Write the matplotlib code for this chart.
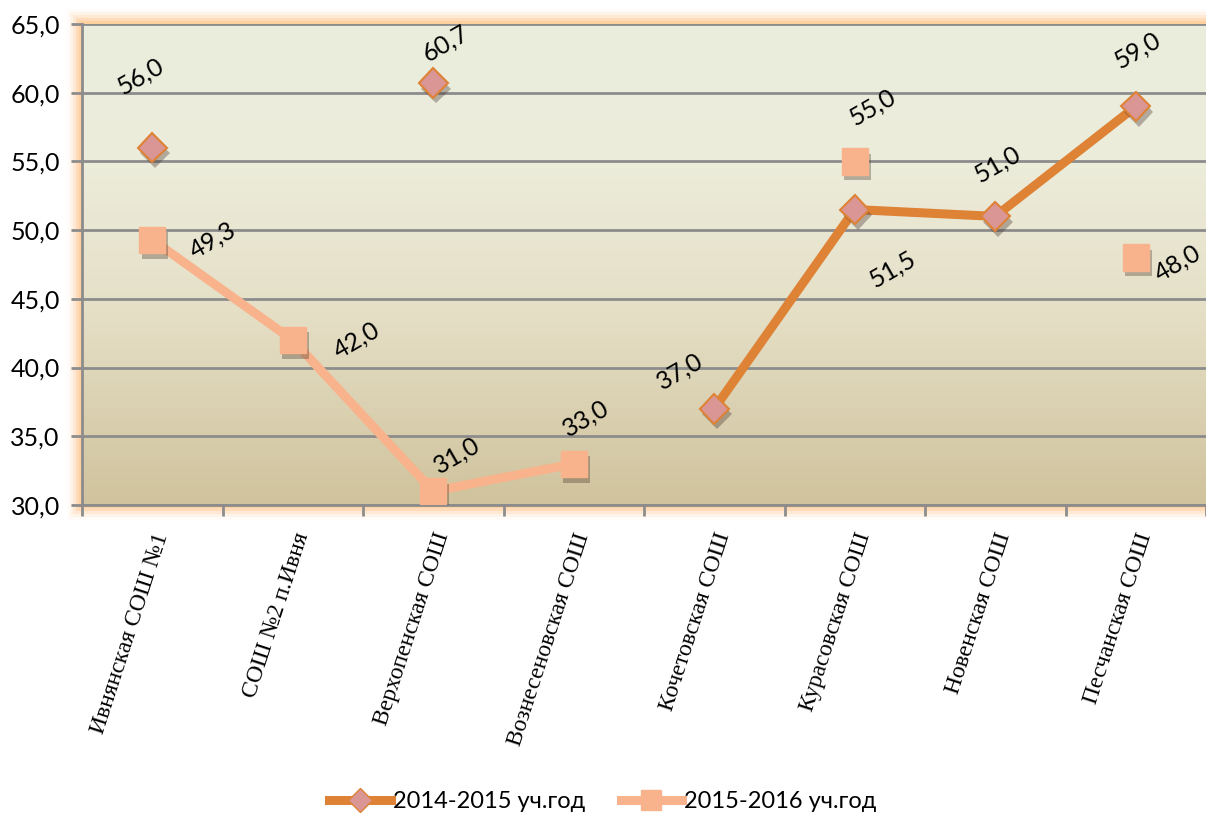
import matplotlib.pyplot as plt
import matplotlib.patheffects as pe
import numpy as np
from matplotlib.colors import LinearSegmentedColormap
from matplotlib.patches import Rectangle

# Data
schools = ["Ивнянская СОШ №1", "СОШ №2 п.Ивня", "Верхопенская СОШ",
           "Вознесеновская СОШ", "Кочетовская СОШ", "Курасовская СОШ",
           "Новенская СОШ", "Песчанская СОШ"]
y2015 = [56.0, np.nan, 60.7, np.nan, 37.0, 51.5, 51.0, 59.0]
y2016 = [49.3, 42.0, 31.0, 33.0, np.nan, 55.0, np.nan, 48.0]
name2015 = "2014-2015 уч.год"
name2016 = "2015-2016 уч.год"

# label offsets in pixels (dx, dy)
off2015 = [(-12, 72), None, (12, 40), None, (-34, 38), (38, -60), (2, 52), (2, 56)]
off2016 = [(60, 0), (64, 0), (24, 36), (12, 46), None, (18, 54), None, (42, -6)]

c1 = "#DE8236"
c1m = "#D99694"
c2 = "#F8B38C"
sans = "Lato"

fig = plt.figure(figsize=(12.06, 8.16), dpi=100)
ax = fig.add_axes([82/1206, 1-505/816, 1124/1206, 481/816])

x = np.arange(len(schools))
ax.set_xlim(-0.5, len(schools) - 0.5)
ax.set_ylim(30, 65)

# background gradient
cmap = LinearSegmentedColormap.from_list("bg", [(0, "#D0C39D"), (0.4, "#E5DFC6"), (0.7, "#ECECDA"), (1, "#EAEEDD")])
grad = np.linspace(0, 1, 256).reshape(-1, 1)
ax.imshow(grad, aspect="auto", cmap=cmap, origin="lower",
          extent=[-0.5, len(schools) - 0.5, 30, 65], zorder=0)

# orange glow around the plot area
for i, a in enumerate([0.5, 0.35, 0.22, 0.12, 0.06]):
    p = (i + 1) * 3
    fig.patches.append(Rectangle((82 - p, 816 - 505 - p), 1124 + 2 * p, 481 + 2 * p,
                                 transform=None, facecolor="#FFC58A", alpha=a,
                                 edgecolor="none", zorder=-10))

ax.set_yticks(np.arange(30, 66, 5))
ax.set_yticklabels([f"{v:.1f}".replace(".", ",") for v in np.arange(30, 66, 5)],
                   fontsize=18, family=sans)
ax.yaxis.grid(True, color="#8C8C8C", linewidth=2)
ax.set_axisbelow(True)
ax.tick_params(axis="y", length=8, width=2, color="#8C8C8C", pad=8)

ax.set_xticks(np.arange(len(schools) + 1) - 0.5, minor=True)
ax.set_xticks(x)
ax.set_xticklabels(schools, rotation=72, fontsize=17, family="Liberation Serif",
                   ha="right", va="top", rotation_mode="anchor")
ax.tick_params(axis="x", which="major", length=0, pad=18)
ax.tick_params(axis="x", which="minor", length=8, width=2, color="#8C8C8C")
for s in ["top", "right"]:
    ax.spines[s].set_visible(False)
ax.spines["left"].set_color("#8C8C8C")
ax.spines["left"].set_linewidth(2)
ax.spines["bottom"].set_color("#8C8C8C")
ax.spines["bottom"].set_linewidth(2)

shadow = [pe.SimplePatchShadow(offset=(2, -4), alpha=0.35), pe.Normal()]

# lines
ax.plot(x, y2015, color=c1, linewidth=6.5, zorder=3, solid_capstyle="butt")
ax.plot(x, y2016, color=c2, linewidth=6.5, zorder=3, solid_capstyle="butt")
# markers with shadow
ax.plot(x, y2015, linestyle="none", marker="D", markersize=15,
        markerfacecolor=c1m, markeredgecolor=c1, markeredgewidth=1.5,
        zorder=4, path_effects=shadow)
ax.plot(x, y2016, linestyle="none", marker="s", markersize=19,
        markerfacecolor=c2, markeredgecolor=c2, zorder=4, path_effects=shadow)

# legend handles
ax.plot([], [], color=c1, linewidth=6.5, marker="D", markersize=12,
        markerfacecolor=c1m, markeredgecolor=c1, label=name2015)
ax.plot([], [], color=c2, linewidth=6.5, marker="s", markersize=15,
        markerfacecolor=c2, markeredgecolor=c2, label=name2016)

for i in range(len(schools)):
    if not np.isnan(y2015[i]):
        ax.annotate(f"{y2015[i]:.1f}".replace(".", ","), (x[i], y2015[i]),
                    xytext=off2015[i], textcoords="offset pixels", rotation=30,
                    ha="center", va="center", fontsize=18, family=sans, zorder=5)
    if not np.isnan(y2016[i]):
        ax.annotate(f"{y2016[i]:.1f}".replace(".", ","), (x[i], y2016[i]),
                    xytext=off2016[i], textcoords="offset pixels", rotation=30,
                    ha="center", va="center", fontsize=18, family=sans, zorder=5)

leg = fig.legend(loc="center", bbox_to_anchor=(0.5, 1 - 802/816), ncol=2, frameon=False,
                 prop={"family": sans, "size": 17},
                 handlelength=2.6, columnspacing=1.5, handletextpad=0.1)

plt.savefig("out.png", dpi=100)
